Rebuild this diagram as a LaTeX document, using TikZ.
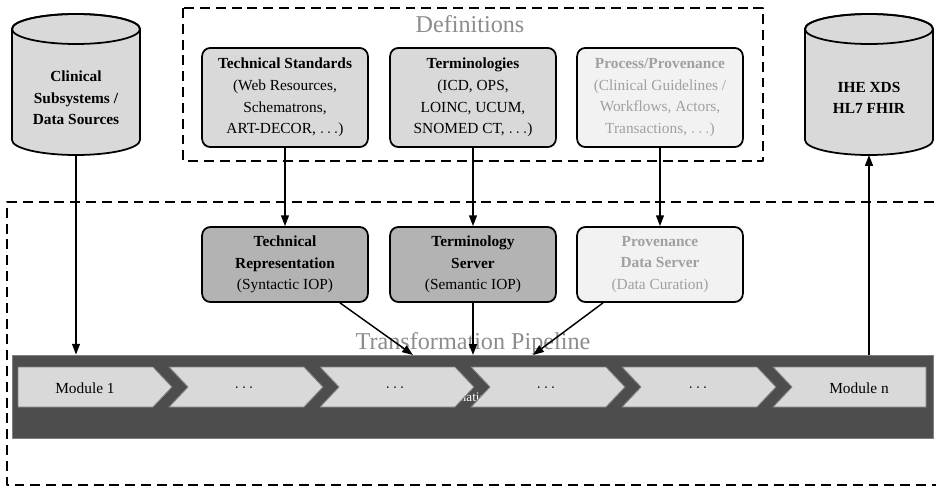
\documentclass[tikz,border=0pt]{standalone}
\usepackage{fontspec}
\setmainfont{Liberation Serif}
\usetikzlibrary{arrows.meta}
\definecolor{boxgray}{HTML}{D9D9D9}
\definecolor{srvgray}{HTML}{B3B3B3}
\definecolor{pale}{HTML}{F2F2F2}
\definecolor{paletext}{HTML}{A0A0A0}
\definecolor{titlegray}{HTML}{8C8C8C}
\definecolor{pipegray}{HTML}{4D4D4D}
\begin{document}
\begin{tikzpicture}[x=0.024cm, y=-0.024cm, line join=round, >={Triangle[length=2.6mm,width=1.9mm]},
  font=\fontsize{10.5}{14.8}\selectfont,
  box/.style={draw, line width=1.2pt, rounded corners=0.2cm, fill=boxgray, minimum width=3.98cm, align=center, inner sep=2pt},
  defbox/.style={box, minimum height=2.38cm},
  srvbox/.style={box, minimum height=1.8cm, fill=srvgray},
  faded/.style={fill=pale, text=paletext},
  store/.style={draw, line width=1.2pt, fill=boxgray},
  storetext/.style={align=center, font=\fontsize{10.5}{14.8}\selectfont\bfseries},
  frame/.style={line width=0.9pt, dash pattern=on 6.8pt off 4pt},
  flow/.style={->, line width=1pt},
  chevron/.style={fill=boxgray, draw=gray, line width=0.6pt},
  title/.style={text=titlegray, font=\fontsize{16.5}{18}\selectfont}]
\useasboundingbox (0,0) rectangle (936,486);
\clip (0,0) rectangle (936,486);
\draw[frame] (183,8) rectangle (763,161);
\draw[frame] (950,202) -- (7,202) -- (7,485) -- (950,485);
\node[title] (deftitle) at (470,24) {Definitions};
\foreach \cx in {76,869} {
  \draw[store] (\cx-64,29) -- (\cx-64,140) arc[start angle=180, end angle=360, x radius=1.536cm, y radius=0.36cm]
    -- (\cx+64,29) arc[start angle=0, end angle=180, x radius=1.536cm, y radius=0.36cm] -- cycle;
  \draw[line width=1.2pt] (\cx,29) ellipse [x radius=1.536cm, y radius=0.36cm];
}
\node[storetext] (src) at (76,98) {Clinical\\Subsystems /\\Data Sources};
\node[storetext] (dst) at (869,98) {IHE XDS\\HL7 FHIR};
\coordinate (srcbase) at (76,155);
\coordinate (dstbase) at (869,155);
\node[defbox] (std) at (285,97.5) {\textbf{Technical Standards}\\(Web Resources,\\Schematrons,\\ART-DECOR, $\ldots$)};
\node[defbox] (term) at (473,97.5) {\textbf{Terminologies}\\(ICD, OPS,\\LOINC, UCUM,\\SNOMED CT, $\ldots$)};
\node[defbox, faded] (proc) at (660,97.5) {\textbf{Process/Provenance}\\(Clinical Guidelines /\\Workflows, Actors,\\Transactions, $\ldots$)};
\node[srvbox] (rep) at (285,264.5) {\textbf{Technical}\\\textbf{Representation}\\(Syntactic IOP)};
\node[srvbox] (tsrv) at (473,264.5) {\textbf{Terminology}\\\textbf{Server}\\(Semantic IOP)};
\node[srvbox, faded] (psrv) at (660,264.5) {\textbf{Provenance}\\\textbf{Data Server}\\(Data Curation)};
\node[fill=pipegray, draw=gray, line width=0.6pt, minimum width=22.1cm, minimum height=1.99cm, inner sep=0pt] (pipe) at (473,396.5) {};
\node[text=white, font=\small] (pipehidden) at (452,397) {Transformation};
\draw[chevron] (18,367) -- (153,367) -- (172,387) -- (153,407) -- (18,407) -- cycle;
\foreach \l in {169,320,471,622}
  \draw[chevron] (\l,367) -- (\l+135,367) -- (\l+154,387) -- (\l+135,407) -- (\l,407) -- (\l+19,387) -- cycle;
\draw[chevron] (773,367) -- (926,367) -- (926,407) -- (773,407) -- (792,387) -- cycle;
\node (m1) at (85,388) {Module 1};
\node (m2) at (244,388) {$\ldots$};
\node (m3) at (395,388) {$\ldots$};
\node (m4) at (546,388) {$\ldots$};
\node (m5) at (698,388) {$\ldots$};
\node (mn) at (859,388) {Module n};
\node[title] (pipetitle) at (473,344) {Transformation Pipeline};
\coordinate (in1) at (413,355);
\coordinate (in2) at (473,355);
\coordinate (in3) at (533,355);
\draw[flow] (srcbase) -- (srcbase |- pipe.north);
\draw[flow] (dstbase |- pipe.north) -- (dstbase);
\draw[flow] (std) -- (rep);
\draw[flow] (term) -- (tsrv);
\draw[flow] (proc) -- (psrv);
\draw[flow] (rep.south -| 340,0) -- (in1);
\draw[flow] (tsrv) -- (in2);
\draw[flow] (psrv.south -| 603,0) -- (in3);
\end{tikzpicture}
\end{document}
